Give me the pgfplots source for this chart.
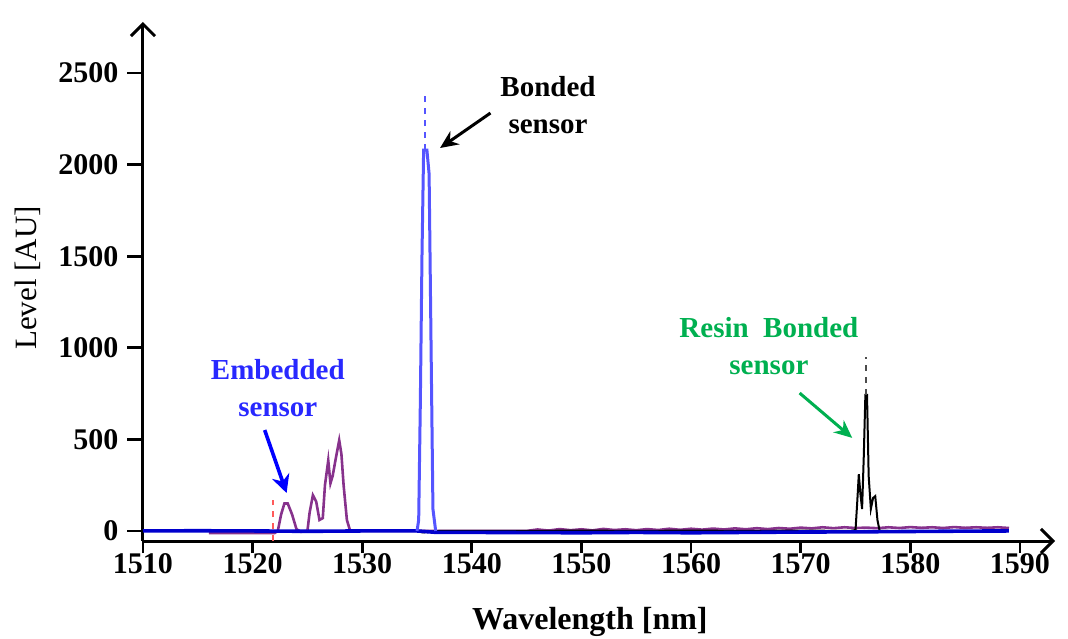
\documentclass[border=0pt]{standalone}
\usepackage{pgfplots}
\pgfplotsset{compat=1.18}
\usetikzlibrary{arrows.meta}
\usepackage{fontspec}
\setmainfont{Liberation Serif}
\definecolor{bbase}{RGB}{0,0,205}
\definecolor{bpeak}{RGB}{85,85,255}
\definecolor{purp}{RGB}{135,50,140}
\definecolor{rtxt}{RGB}{0,176,80}
\definecolor{etxt}{RGB}{40,40,255}
\definecolor{redl}{RGB}{255,90,90}
\begin{document}
\begin{tikzpicture}
\begin{axis}[
  scale only axis, width=456pt, height=259.5pt,
  xmin=1510, xmax=1593.2, ymin=-55, ymax=2779,
  axis lines=left,
  axis line style={line width=1.5pt, -{Straight Barb[length=6pt,width=12pt,line width=1.5pt]}},
  xtick={1510,1520,...,1590}, ytick={0,500,...,2500},
  tick align=outside,
  xtick style={/pgfplots/major tick length=6pt, line width=1.4pt, black},
  ytick style={/pgfplots/major tick length=8pt, line width=1.4pt, black},
  /pgf/number format/1000 sep={},
  /pgf/number format/assume math mode=true,
  ticklabel style={font=\fontsize{15pt}{17pt}\selectfont\bfseries},
  xticklabel style={yshift=1.3pt},
  yticklabel style={xshift=-4.5pt},
  xlabel={Wavelength [nm]}, ylabel={Level [AU]},
  xlabel style={font=\fontsize{16pt}{18pt}\selectfont\bfseries, at={(axis description cs:0.49,0)}, anchor=center, yshift=-40.5pt},
  ylabel style={font=\fontsize{15.5pt}{17pt}\selectfont, at={(axis description cs:-0.126,0.507)}, anchor=center},
  clip=false,
]
% Red dashed marker
\addplot[redl, line width=1pt, dashed] coordinates {(1521.9,-55)(1521.9,170)};
% Purple (Embedded sensor)
\addplot[purp, line width=1.3pt] coordinates {
(1516,-12)(1518,-12)(1520,-12)(1522,-12)(1522.3,0)(1522.6,90)(1522.9,150)(1523.2,150)(1523.6,90)(1524,10)(1524.4,-5)
(1525,0)(1525.2,100)(1525.5,195)(1525.8,160)(1526.1,60)(1526.4,70)(1526.6,250)(1526.9,385)(1527.1,260)(1527.3,300)
(1527.6,400)(1527.9,495)(1528.1,420)(1528.3,250)(1528.6,60)(1528.9,0)(1530,0)(1535,0)(1540,0)(1545,0)
(1546,8)(1547,2)(1548,10)(1549,4)(1550,9)(1551,3)(1552,11)(1553,5)(1554,9)(1555,4)(1556,10)(1557,5)(1558,12)(1559,6)
(1560,12)(1561,7)(1562,13)(1563,8)(1564,14)(1565,9)(1566,15)(1567,10)(1568,16)(1569,12)(1570,18)(1571,14)(1572,20)(1573,15)
(1574,20)(1575,16)(1576,18)(1577,15)(1578,20)(1579,16)(1580,21)(1581,17)(1582,20)(1583,16)(1584,21)(1585,17)(1586,20)(1587,17)(1588,20)(1589,16)};
% Black (Resin bonded sensor)
\addplot[black, line width=1pt] coordinates {
(1535,0)(1535.5,-8)(1536,-6)(1537,0)(1540,0)(1545,0)(1550,2)(1555,0)(1560,2)(1565,0)(1570,2)(1574.5,0)
(1575.0,5)(1575.15,150)(1575.3,310)(1575.45,200)(1575.6,120)(1575.75,400)(1575.9,743)(1576.05,743)(1576.2,300)
(1576.4,120)(1576.6,180)(1576.8,190)(1577.0,60)(1577.2,0)(1578,0)};
\addplot[black!70, line width=1pt, dashed] coordinates {(1576.0,743)(1576.0,950)};
% Blue baseline
\addplot[bbase, line width=1.8pt] coordinates {
(1510,0)(1515,1)(1520,0)(1525,-2)(1530,0)(1535,0)
(1536.8,-8)(1540,-8)(1545,-9)(1550,-10)(1555,-8)(1560,-10)(1565,-8)(1570,-6)(1575,-5)(1580,-3)(1585,-1)(1589,0)};
% Blue peak (Bonded sensor)
\addplot[bpeak, line width=1.5pt] coordinates {
(1535.0,0)(1535.15,60)(1535.3,700)(1535.45,1500)(1535.6,2080)(1535.9,2080)(1536.1,1950)(1536.3,900)(1536.45,120)(1536.7,0)};
\addplot[bpeak, line width=1pt, dashed] coordinates {(1535.75,2080)(1535.75,2380)};
% Annotations
\node[font=\fontsize{14.5pt}{18.5pt}\selectfont\bfseries, align=center] at (axis cs:1546.95,2323) {Bonded\\sensor};
\draw[line width=1.5pt, -{Stealth[length=9pt,width=8pt]}] (axis cs:1541.7,2282) -- (axis cs:1537.1,2091);
\node[font=\fontsize{14.5pt}{18.5pt}\selectfont\bfseries, align=center, text=etxt] at (axis cs:1522.3,778) {Embedded\\sensor};
\draw[line width=1.8pt, blue, -{Stealth[length=9pt,width=9pt]}] (axis cs:1521.1,551) -- (axis cs:1523.1,207);
\node[font=\fontsize{14.5pt}{18.5pt}\selectfont\bfseries, align=center, text=rtxt] at (axis cs:1567.1,1007) {Resin\ \ Bonded\\sensor};
\draw[line width=1.5pt, rtxt, -{Stealth[length=9pt,width=8pt]}] (axis cs:1569.9,753) -- (axis cs:1574.7,508);
\end{axis}
\pgfresetboundingbox
\path (current axis.south west) ++(-71.5pt,-48.5pt) rectangle ++(534pt,319pt);
\end{tikzpicture}
\end{document}
